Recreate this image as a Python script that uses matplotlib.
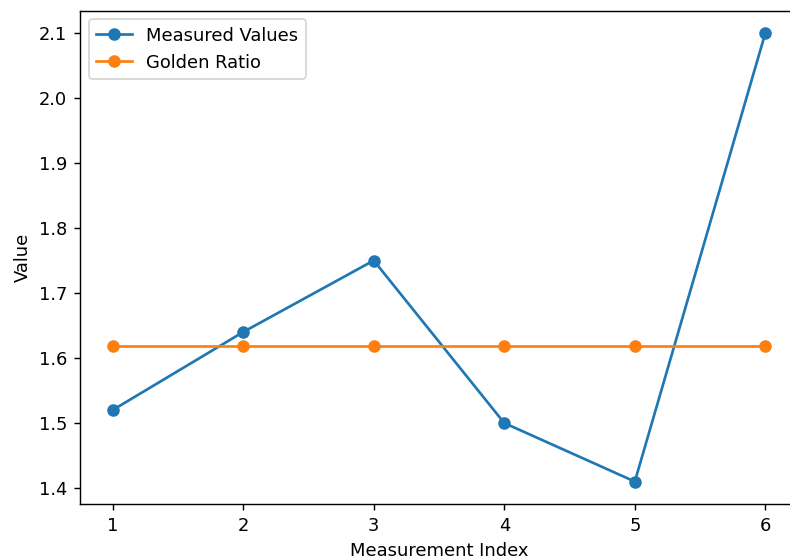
import matplotlib
matplotlib.use("Agg")
import matplotlib.pyplot as plt

indices = [1, 2, 3, 4, 5, 6]
measured = [1.52, 1.64, 1.75, 1.50, 1.41, 2.10]
golden = [1.618] * 6

dpi = 129
W, H = 790, 559
fig = plt.figure(figsize=(W/dpi, H/dpi), dpi=dpi)
left, right, top, bottom = 80, 798, 10.5, 504
ax = fig.add_axes([left/W, 1-bottom/H, (right-left)/W, (bottom-top)/H])
ax.plot(indices, measured, marker='o', label='Measured Values')
ax.plot(indices, golden, marker='o', label='Golden Ratio')
ax.set_xlabel('Measurement Index')
ax.set_ylabel('Value')
ax.legend(loc='upper left')
fig.savefig('out.png', dpi=dpi)
